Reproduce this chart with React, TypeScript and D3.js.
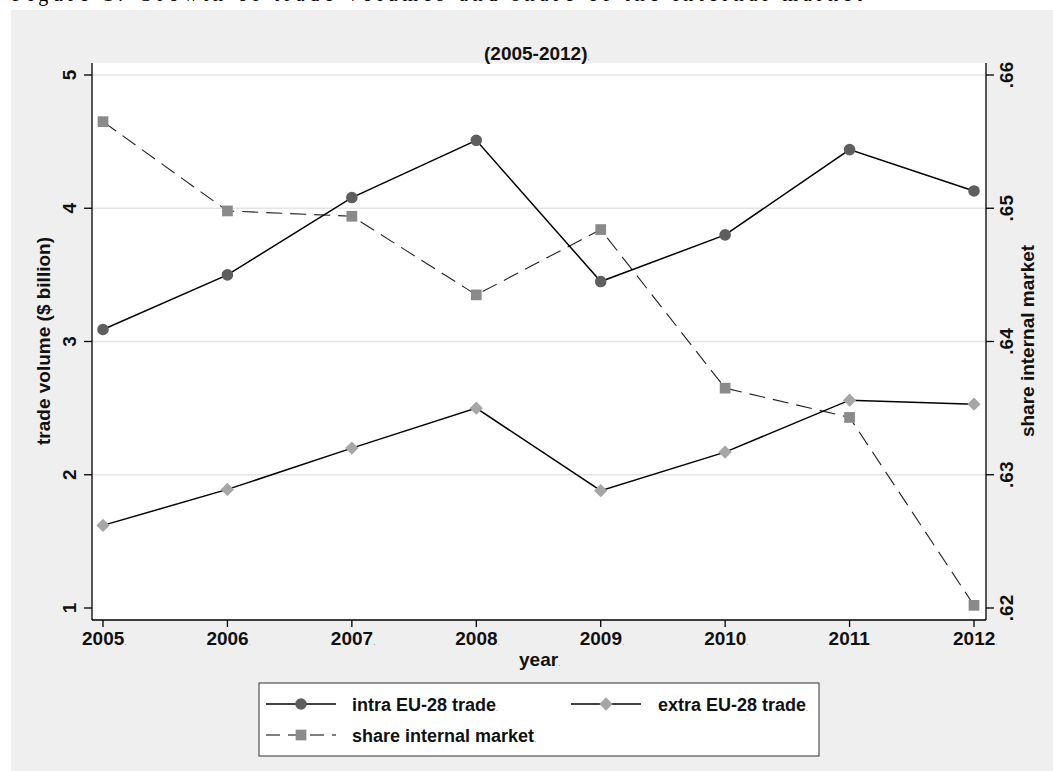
import React, { useEffect, useRef } from "react";
import * as d3 from "d3";

const years = [2005, 2006, 2007, 2008, 2009, 2010, 2011, 2012];
const intraTrade = [3.09, 3.5, 4.08, 4.51, 3.45, 3.8, 4.44, 4.13];
const extraTrade = [1.62, 1.89, 2.2, 2.5, 1.88, 2.17, 2.56, 2.53];
const shareInternal = [0.6565, 0.6498, 0.6494, 0.6435, 0.6484, 0.6365, 0.6343, 0.6202];
const leftTicks = [1, 2, 3, 4, 5];
const rightTicks = [0.62, 0.63, 0.64, 0.65, 0.66];

const FONT = "'Liberation Sans', Arial, sans-serif";
const FS = 19;

export default function App() {
  const ref = useRef<SVGSVGElement>(null);

  useEffect(() => {
    const svg = d3.select(ref.current);
    svg.selectAll("*").remove();

    const plot = { left: 92, right: 986, top: 63, bottom: 620 };
    const x = d3.scaleLinear().domain([2005, 2012]).range([103, 974]);
    const yL = d3.scaleLinear().domain([1, 5]).range([608, 75]);
    const yR = d3.scaleLinear().domain([0.62, 0.66]).range([608, 75]);

    // caption of the page, cropped at the top edge
    svg.append("text").attr("x", 12).attr("y", 0.5)
      .attr("textLength", 850).attr("font-family", "'Liberation Serif', serif")
      .attr("font-size", 20).text("Figure 1: Growth of trade volumes and share of the internal market");

    svg.append("rect").attr("x", 11).attr("y", 10).attr("width", 1042).attr("height", 761).attr("fill", "#efefef");
    svg.append("rect").attr("x", plot.left).attr("y", plot.top)
      .attr("width", plot.right - plot.left).attr("height", plot.bottom - plot.top).attr("fill", "#fff");

    const label = (g: any, txt: string) => {
      g.append("tspan").text(txt);
      g.append("tspan").attr("font-size", 8).attr("fill", "#777").attr("font-weight", "normal").text(".");
    };

    // grid
    svg.selectAll(".grid").data(leftTicks.filter(d => d > 1)).join("line")
      .attr("x1", plot.left).attr("x2", plot.right)
      .attr("y1", d => yL(d)).attr("y2", d => yL(d))
      .attr("stroke", "#e4e4e4").attr("stroke-width", 1.5);

    // axes
    const ax = svg.append("g").attr("stroke", "#000").attr("stroke-width", 1.3);
    ax.append("line").attr("x1", plot.left).attr("x2", plot.left).attr("y1", plot.top).attr("y2", plot.bottom);
    ax.append("line").attr("x1", plot.right).attr("x2", plot.right).attr("y1", plot.top).attr("y2", plot.bottom);
    ax.append("line").attr("x1", plot.left).attr("x2", plot.right).attr("y1", plot.bottom).attr("y2", plot.bottom);
    leftTicks.forEach(t => ax.append("line").attr("x1", plot.left - 8).attr("x2", plot.left).attr("y1", yL(t)).attr("y2", yL(t)));
    rightTicks.forEach(t => ax.append("line").attr("x1", plot.right).attr("x2", plot.right + 8).attr("y1", yR(t)).attr("y2", yR(t)));
    years.forEach(t => ax.append("line").attr("x1", x(t)).attr("x2", x(t)).attr("y1", plot.bottom).attr("y2", plot.bottom + 7));

    const txt = svg.append("g").attr("font-family", FONT).attr("font-size", FS).attr("font-weight", "bold").attr("fill", "#111");

    leftTicks.forEach(t => {
      txt.append("text").attr("transform", `translate(76,${yL(t)}) rotate(-90)`)
        .attr("text-anchor", "middle").text(String(t));
    });
    rightTicks.forEach(t => {
      txt.append("text").attr("transform", `translate(1013,${yR(t)}) rotate(-90)`)
        .attr("text-anchor", "middle").text(d3.format(".2f")(t).replace(/^0/, ""));
    });
    years.forEach(t => {
      label(txt.append("text").attr("x", x(t) - 21).attr("y", 645), String(t));
    });

    label(txt.append("text").attr("x", 519).attr("y", 666), "year");
    label(txt.append("text").attr("x", 484).attr("y", 60), "(2005-2012)");
    txt.append("text").attr("transform", `translate(50,341) rotate(-90)`).attr("text-anchor", "middle")
      .text("trade volume ($ billion)");
    txt.append("text").attr("transform", `translate(1034,341) rotate(-90)`).attr("text-anchor", "middle")
      .text("share internal market");

    // series
    const lineL = d3.line<number>().x((d, i) => x(years[i])).y(d => yL(d));
    const lineR = d3.line<number>().x((d, i) => x(years[i])).y(d => yR(d));

    svg.append("path").attr("d", lineR(shareInternal)).attr("fill", "none")
      .attr("stroke", "#222").attr("stroke-width", 1.1).attr("stroke-dasharray", "16,8");
    svg.append("path").attr("d", lineL(intraTrade)).attr("fill", "none").attr("stroke", "#000").attr("stroke-width", 1.5);
    svg.append("path").attr("d", lineL(extraTrade)).attr("fill", "none").attr("stroke", "#000").attr("stroke-width", 1.5);

    const sq = d3.symbol().type(d3.symbolSquare).size(115);
    const ci = d3.symbol().type(d3.symbolCircle).size(105);
    const di = d3.symbol().type(d3.symbolSquare).size(88);

    svg.selectAll(".sq").data(shareInternal).join("path")
      .attr("d", sq).attr("transform", (d, i) => `translate(${x(years[i])},${yR(d)})`).attr("fill", "#8a8a8a");
    svg.selectAll(".ci").data(intraTrade).join("path")
      .attr("d", ci).attr("transform", (d, i) => `translate(${x(years[i])},${yL(d)})`).attr("fill", "#5e5e5e");
    svg.selectAll(".di").data(extraTrade).join("path")
      .attr("d", di).attr("transform", (d, i) => `translate(${x(years[i])},${yL(d)}) rotate(45)`).attr("fill", "#a6a6a6");

    // legend
    const lg = svg.append("g");
    lg.append("rect").attr("x", 259).attr("y", 683).attr("width", 560).attr("height", 73)
      .attr("fill", "#fff").attr("stroke", "#333").attr("stroke-width", 1);
    const entries = [
      { name: "intra EU-28 trade", x0: 266, y0: 704, sym: ci, rot: 0, fill: "#5e5e5e", dash: null, tx: 352 },
      { name: "extra EU-28 trade", x0: 571, y0: 704, sym: di, rot: 45, fill: "#a6a6a6", dash: null, tx: 658 },
      { name: "share internal market", x0: 266, y0: 735, sym: sq, rot: 0, fill: "#8a8a8a", dash: "14,8", tx: 352 },
    ];
    entries.forEach(e => {
      lg.append("line").attr("x1", e.x0).attr("x2", e.x0 + 70).attr("y1", e.y0).attr("y2", e.y0)
        .attr("stroke", "#000").attr("stroke-width", e.dash ? 1.1 : 1.5)
        .attr("stroke-dasharray", e.dash);
      lg.append("path").attr("d", e.sym).attr("transform", `translate(${e.x0 + 35},${e.y0}) rotate(${e.rot})`).attr("fill", e.fill);
      const t = lg.append("text").attr("x", e.tx).attr("y", e.y0 + 7)
        .attr("font-family", FONT).attr("font-size", 18).attr("font-weight", "bold").attr("fill", "#111");
      label(t, e.name);
    });
  }, []);

  return (
    <svg ref={ref} width={1053} height={771}
      style={{ position: "absolute", left: 0, top: 0, background: "#fff" }} />
  );
}
